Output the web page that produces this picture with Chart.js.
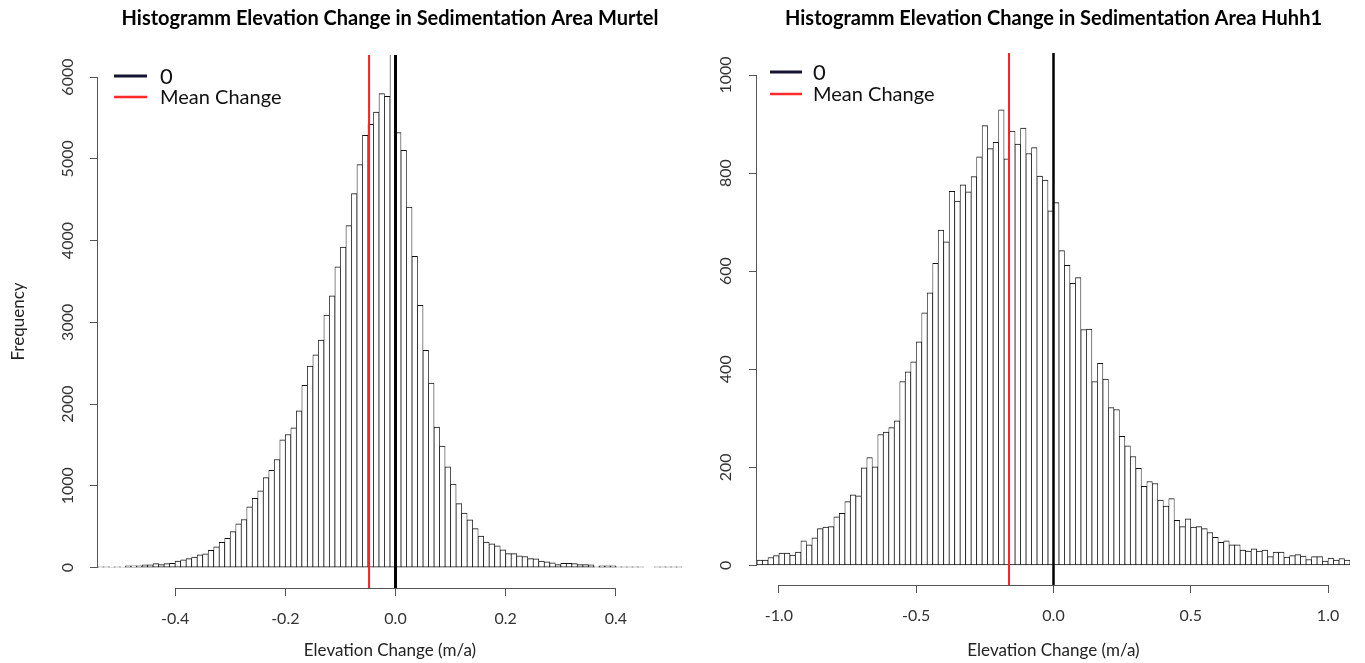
<!doctype html>
<html lang="en">
<head>
<meta charset="utf-8">
<title>Histogramm Elevation Change</title>
<script src="https://cdn.jsdelivr.net/npm/chart.js@4.4.1/dist/chart.umd.min.js"></script>
<style>
  html, body { margin: 0; padding: 0; background: #fff; }
  #wrap { position: relative; width: 1365px; height: 663px; overflow: hidden; }
  .panel { position: absolute; top: 0; height: 663px; }
  #pLeft { left: 0; width: 683px; }
  #pRight { left: 683px; width: 682px; }
</style>
</head>
<body>
<div id="wrap">
  <div class="panel" id="pLeft"><canvas id="chartMurtel"></canvas></div>
  <div class="panel" id="pRight"><canvas id="chartHuhh"></canvas></div>
</div>
<script>
// ---- Murtel: bins of 0.01 starting at -0.54
const murtelFirstBin = -0.54;
const murtelBinWidth = 0.01;
const murtelCounts = [
  8, 8, 9, 8, 10, 20, 22, 20, 33, 33,
  49, 37, 49, 52, 78, 94, 110, 127, 155, 168,
  212, 253, 310, 359, 440, 535, 588, 742, 846, 940,
  1100, 1190, 1322, 1563, 1628, 1710, 1918, 2228, 2464, 2603,
  2782, 3088, 3325, 3680, 3921, 4182, 4574, 4929, 5288, 5422,
  5573, 5798, 5765, 6350,
  5320, 5104, 4410, 3807, 3207, 2656, 2256, 1717, 1485, 1232,
  1020, 783, 667, 584, 477, 385, 312, 290, 265, 216,
  171, 171, 143, 135, 110, 106, 78, 69, 57, 37,
  53, 53, 49, 37, 37, 33, 12, 20, 20, 20,
  8, 8, 8, 8, 8, 0, 0, 8, 8, 8, 8, 8
];
const murtelMean = -0.048;
const murtelXTicks = [-0.4, -0.2, 0, 0.2, 0.4];
const murtelYTicks = [0, 1000, 2000, 3000, 4000, 5000, 6000];
const murtelYLim = [-250, 6270];

// ---- Huhh1: bins of 0.02 starting at -1.08
const huhhFirstBin = -1.08;
const huhhBinWidth = 0.02;
const huhhCounts = [
  11, 11, 16, 20, 25, 25, 21, 27, 50, 42,
  56, 75, 78, 79, 99, 106, 130, 144, 142, 199,
  220, 201, 267, 272, 281, 295, 375, 395, 415, 456,
  515, 556, 616, 684, 660, 763, 743, 776, 762, 793,
  833, 897, 850, 863, 929, 829, 886, 859, 892, 840,
  852, 794, 786, 723,
  740, 642, 612, 575, 587, 481, 482, 375, 412, 380,
  322, 318, 263, 244, 222, 198, 161, 171, 167, 133,
  121, 136, 92, 79, 95, 78, 79, 75, 67, 57,
  47, 50, 42, 42, 31, 29, 34, 29, 31, 18,
  27, 27, 17, 20, 22, 19, 12, 18, 18, 9,
  15, 11, 14, 11
];
const huhhMean = -0.162;
const huhhXTicks = [-1, -0.5, 0, 0.5, 1];
const huhhYTicks = [0, 200, 400, 600, 800, 1000];
const huhhYLim = [-40, 1045];

const legendLabels = ['0', 'Mean Change'];

Chart.defaults.font.family = 'Lato, "Open Sans", sans-serif';
Chart.defaults.color = '#333';

// R style: axis line only between first and last tick, legend inside top left
const rStyle = {
  id: 'rStyle',
  afterDraw(chart, args, opts) {
    const ctx = chart.ctx, a = chart.chartArea;
    const xs = chart.scales.x, ys = chart.scales.y;
    const xt = xs.ticks, yt = ys.ticks;
    ctx.save();
    ctx.strokeStyle = '#555';
    ctx.lineWidth = 1;
    ctx.beginPath();
    const by = Math.round(a.bottom) + 0.5;
    ctx.moveTo(xs.getPixelForValue(xt[0].value), by);
    ctx.lineTo(xs.getPixelForValue(xt[xt.length - 1].value), by);
    const lx = Math.round(a.left) - 0.5;
    ctx.moveTo(lx, ys.getPixelForValue(yt[0].value));
    ctx.lineTo(lx, ys.getPixelForValue(yt[yt.length - 1].value));
    ctx.stroke();

    // legend
    ctx.textBaseline = 'middle';
    ctx.textAlign = 'left';
    opts.labels.forEach((lab, i) => {
      const yy = a.top + opts.y + i * opts.gap;
      ctx.strokeStyle = opts.colors[i];
      ctx.lineWidth = opts.widths[i];
      ctx.beginPath();
      ctx.moveTo(a.left + opts.x, yy);
      ctx.lineTo(a.left + opts.x + opts.len, yy);
      ctx.stroke();
      ctx.fillStyle = '#111';
      ctx.font = (i === 0 ? 22 : 20) + 'px Lato, "Open Sans", sans-serif';
      ctx.fillText(lab, a.left + opts.textX, yy + 1);
    });
    ctx.restore();
  }
};

function makeHist(id, o) {
  const bars = o.counts.map((c, i) => ({ x: o.first + (i + 0.5) * o.width, y: c }));
  const xMin = o.first;
  const xMax = o.first + o.counts.length * o.width;
  return new Chart(document.getElementById(id), {
    type: 'bar',
    data: {
      datasets: [
        {
          type: 'line',
          data: [{ x: 0, y: o.yLim[0] }, { x: 0, y: o.yLim[1] }],
          borderColor: '#000',
          borderWidth: o.zeroWidth,
          pointRadius: 0,
          order: 0
        },
        {
          type: 'line',
          data: [{ x: o.mean, y: o.yLim[0] }, { x: o.mean, y: o.yLim[1] }],
          borderColor: '#ff2020',
          borderWidth: 2,
          pointRadius: 0,
          order: 1
        },
        {
          type: 'bar',
          data: bars,
          backgroundColor: '#fff',
          borderColor: '#111',
          borderWidth: { top: 1, right: 0.75, bottom: 1, left: 0.75 },
          borderSkipped: false,
          barPercentage: 1,
          categoryPercentage: 1,
          order: 2
        }
      ]
    },
    options: {
      responsive: true,
      maintainAspectRatio: false,
      animation: false,
      events: [],
      layout: { padding: { left: 0, right: o.padRight, top: 0, bottom: 0 } },
      plugins: {
        legend: { display: false },
        tooltip: { enabled: false },
        title: {
          display: true,
          fullSize: false,
          text: o.title,
          color: '#000',
          font: { size: 20, weight: 'bold' },
          padding: { top: 7, bottom: o.titleGap }
        },
        rStyle: {
          labels: legendLabels,
          colors: ['#141432', '#ff2a2a'],
          widths: [3, 2.5],
          x: o.leg.x, y: o.leg.y, gap: o.leg.gap, len: o.leg.len, textX: o.leg.textX
        }
      },
      scales: {
        x: {
          type: 'linear',
          min: xMin,
          max: xMax,
          offset: false,
          grid: { drawOnChartArea: false, drawTicks: true, tickLength: 8, color: '#555', offset: false },
          border: { display: false },
          ticks: {
            padding: 13,
            maxRotation: 0,
            autoSkip: false,
            color: '#333',
            font: { size: 16 },
            callback: v => Number(v).toFixed(1)
          },
          title: {
            display: true,
            text: 'Elevation Change (m/a)',
            color: '#222',
            font: { size: 17 },
            padding: { top: 0, bottom: 2 }
          },
          afterBuildTicks: s => { s.ticks = o.xTicks.map(v => ({ value: v })); },
          afterFit: s => { s.height = o.axisHeight; }
        },
        y: {
          type: 'linear',
          min: o.yLim[0],
          max: o.yLim[1],
          grid: { drawOnChartArea: false, drawTicks: true, tickLength: 8, color: '#555' },
          border: { display: false },
          ticks: {
            minRotation: 90,
            maxRotation: 90,
            crossAlign: 'center',
            padding: o.yPad,
            autoSkip: false,
            color: '#333',
            font: { size: 16 },
            callback: v => String(v)
          },
          title: {
            display: o.yTitle !== '',
            text: o.yTitle,
            color: '#222',
            font: { size: 17 },
            padding: { top: 8, bottom: 0 }
          },
          afterBuildTicks: s => { s.ticks = o.yTicks.map(v => ({ value: v })); },
          afterFit: s => { s.width = o.axisWidth; }
        }
      }
    },
    plugins: [rStyle]
  });
}

makeHist('chartMurtel', {
  counts: murtelCounts, first: murtelFirstBin, width: murtelBinWidth, mean: murtelMean,
  xTicks: murtelXTicks, yTicks: murtelYTicks, yLim: murtelYLim,
  title: 'Histogramm Elevation Change in Sedimentation Area Murtel',
  yTitle: 'Frequency', zeroWidth: 3,
  padRight: 1, titleGap: 24, axisHeight: 75, axisWidth: 98, yPad: 4,
  leg: { x: 16, y: 21, gap: 21, len: 33, textX: 62 }
});

makeHist('chartHuhh', {
  counts: huhhCounts, first: huhhFirstBin, width: huhhBinWidth, mean: huhhMean,
  xTicks: huhhXTicks, yTicks: huhhYTicks, yLim: huhhYLim,
  title: 'Histogramm Elevation Change in Sedimentation Area Huhh1',
  yTitle: '', zeroWidth: 2.5,
  padRight: 15, titleGap: 22, axisHeight: 78, axisWidth: 74, yPad: 5,
  leg: { x: 13, y: 19, gap: 22, len: 32, textX: 56 }
});
</script>
</body>
</html>
